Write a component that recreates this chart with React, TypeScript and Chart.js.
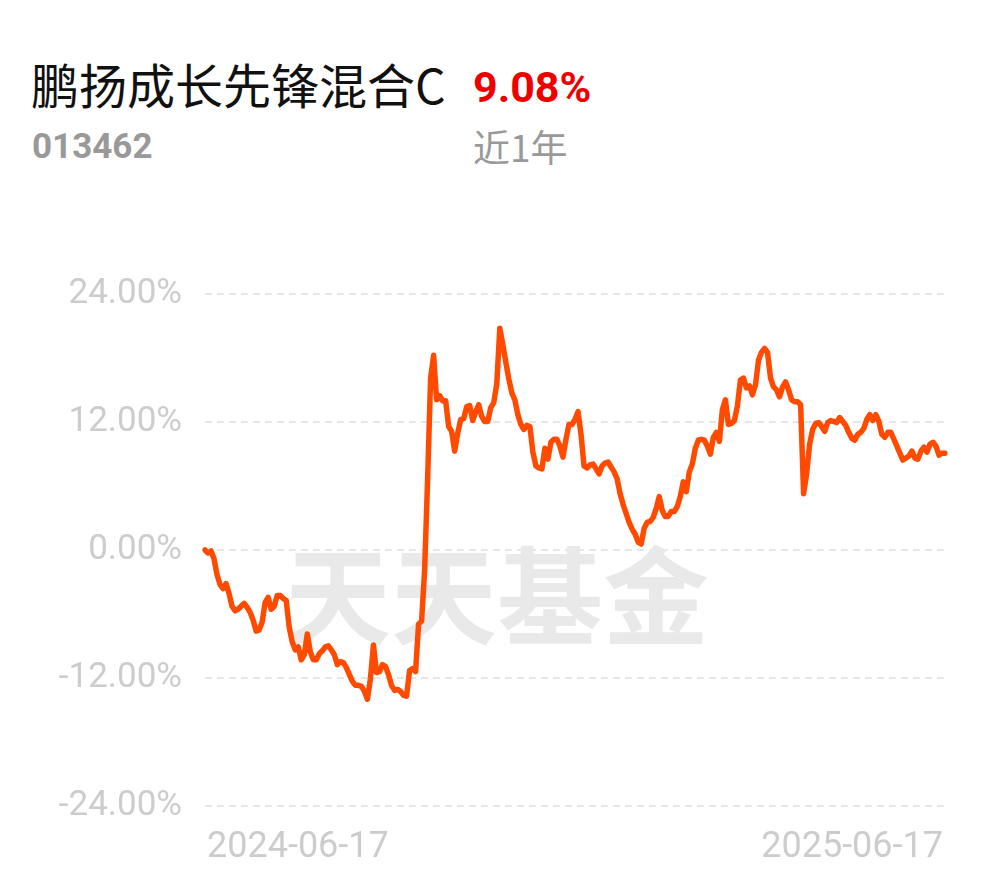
import React, { useEffect, useRef } from 'react';
import { Chart, registerables } from 'chart.js';

Chart.register(...registerables);

const fundName = '鹏扬成长先锋混合C';
const fundCode = '013462';
const periodReturn = '9.08%';
const periodLabel = '近1年';
const watermarkText = '天天基金';
const startDate = '2024-06-17';
const endDate = '2025-06-17';
const yTicks = [-24, -12, 0, 12, 24];

// cumulative return (%) over the last year, one value per trading day
const returns = [
  0, -0.28, -0.09, -0.83, -2.32, -3.24, -3.61, -3.15, -4.08, -5.28,
  -5.7, -5.56, -5.28, -5.0, -5.37, -5.84, -6.58, -7.6, -7.51, -6.76,
  -4.91, -4.45, -5.56, -5.28, -4.26, -4.26, -4.54, -4.73, -7.23, -8.62,
  -9.36, -9.08, -10.29, -9.82, -7.88, -9.54, -10.29, -10.29, -9.73, -9.45,
  -9.08, -8.99, -9.36, -9.82, -10.75, -10.47, -10.56, -11.03, -11.68, -12.32,
  -12.69, -12.69, -12.79, -13.25, -13.99, -12.05, -8.9, -11.49, -11.4, -10.75,
  -10.93, -11.68, -12.69, -13.16, -13.07, -13.25, -13.62, -13.71, -11.3, -11.12,
  -11.4, -6.95, -6.67, -1.95, 6.58, 16.12, 18.25, 14.08, 14.46, 13.99,
  13.99, 11.58, 11.12, 9.27, 10.93, 12.23, 12.32, 13.44, 13.53, 12.14,
  12.97, 13.62, 12.51, 12.05, 12.05, 13.34, 13.81, 15.6, 20.8, 19.27,
  17.61, 16.03, 14.73, 14.08, 12.69, 11.77, 11.3, 11.68, 11.58, 9.17,
  7.88, 7.69, 7.6, 9.54, 8.52, 10.1, 10.38, 10.38, 9.73, 8.71,
  10.38, 11.77, 11.77, 12.23, 12.97, 10.84, 7.88, 7.69, 7.97, 8.06,
  7.6, 7.14, 7.88, 8.15, 8.25, 7.78, 7.32, 6.67, 5.28, 4.26,
  3.43, 2.59, 1.95, 1.48, 0.74, 0.56, 2.04, 2.59, 2.69, 3.06,
  3.89, 5.0, 3.71, 3.15, 3.15, 3.61, 3.61, 4.08, 5.0, 6.39,
  5.47, 7.32, 8.06, 9.54, 10.29, 10.38, 10.29, 9.73, 8.99, 10.56,
  11.03, 10.19, 13.16, 14.08, 11.77, 11.86, 12.14, 13.53, 15.94, 16.12,
  15.2, 15.38, 14.55, 15.47, 17.79, 18.53, 18.9, 18.53, 16.12, 15.29,
  15.01, 14.36, 15.29, 15.75, 15.01, 14.08, 13.9, 13.9, 13.62, 5.28,
  7.14, 9.91, 11.3, 11.86, 11.95, 11.58, 11.12, 11.95, 12.14, 12.05,
  11.95, 12.42, 12.05, 11.68, 11.03, 10.47, 10.29, 10.84, 11.03, 11.4,
  12.23, 12.69, 12.14, 12.69, 12.05, 10.84, 10.56, 11.03, 11.03, 10.38,
  9.73, 9.08, 8.43, 8.62, 8.8, 9.27, 8.62, 8.52, 9.27, 9.64,
  9.17, 9.91, 10.1, 9.73, 8.9, 9.08, 9.08,
];

const CANVAS_TOP = 250;
const CANVAS_W = 990;
const CANVAS_H = 628;

export default function App() {
  const canvasRef = useRef<HTMLCanvasElement | null>(null);

  useEffect(() => {
    if (!canvasRef.current) return;
    const labels = returns.map((_, i) =>
      i === 0 ? startDate : i === returns.length - 1 ? endDate : ''
    );

    const decorPlugin = {
      id: 'decor',
      beforeDatasetsDraw(chart: any) {
        const { ctx, chartArea, scales } = chart;
        ctx.save();
        ctx.font = 'bold 106px "Noto Sans CJK SC"';
        ctx.fillStyle = '#e9e9e9';
        ctx.textAlign = 'center';
        ctx.textBaseline = 'middle';
        ctx.fillText(watermarkText, chartArea.left + 292, scales.y.getPixelForValue(-4.3));
        ctx.restore();
      },
      afterDraw(chart: any) {
        const { ctx, chartArea } = chart;
        ctx.save();
        ctx.font = '36px Roboto';
        ctx.fillStyle = '#cccccc';
        ctx.textBaseline = 'alphabetic';
        const baseY = chartArea.bottom + 51;
        ctx.textAlign = 'left';
        ctx.fillText(startDate, chartArea.left + 2, baseY);
        ctx.textAlign = 'right';
        ctx.fillText(endDate, chartArea.right - 2, baseY);
        ctx.restore();
      },
    };

    const chart = new Chart(canvasRef.current, {
      type: 'line',
      data: {
        labels,
        datasets: [
          {
            data: returns,
            borderColor: '#ff4a00',
            borderWidth: 5.5,
            pointRadius: 0,
            tension: 0,
            fill: false,
            borderJoinStyle: 'round',
            borderCapStyle: 'round',
          },
        ],
      },
      options: {
        animation: false,
        responsive: false,
        maintainAspectRatio: false,
        layout: { padding: { top: 38, right: 45, bottom: 72, left: 0 } },
        plugins: { legend: { display: false }, tooltip: { enabled: false } },
        scales: {
          x: { display: false },
          y: {
            min: yTicks[0],
            max: yTicks[yTicks.length - 1],
            afterFit: (s: any) => {
              s.width = 205;
            },
            afterBuildTicks: (s: any) => {
              s.ticks = yTicks.map((v) => ({ value: v }));
            },
            ticks: {
              padding: 23,
              color: '#cccccc',
              font: { family: 'Roboto', size: 35 },
              callback: (v: any) => Number(v).toFixed(2) + '%',
            },
            grid: { color: '#e6e6e6', lineWidth: 2, drawTicks: false },
            border: { display: false, dash: [7, 5] },
          },
        },
      },
      plugins: [decorPlugin],
    } as any);

    return () => chart.destroy();
  }, []);

  return (
    <div style={{ position: 'absolute', left: 0, top: 0, width: 990, height: 878, background: '#fff' }}>
      <div
        style={{
          position: 'absolute',
          left: 31,
          top: 59,
          fontFamily: '"Noto Sans CJK SC"',
          fontSize: 48,
          lineHeight: 1,
          color: '#111',
          whiteSpace: 'nowrap',
        }}
      >
        {fundName}
      </div>
      <div
        style={{
          position: 'absolute',
          left: 473,
          top: 66,
          fontFamily: 'Roboto',
          fontWeight: 700,
          fontSize: 43,
          lineHeight: 1,
          color: '#ee0000',
        }}
      >
        {periodReturn}
      </div>
      <div
        style={{
          position: 'absolute',
          left: 32,
          top: 129,
          fontFamily: 'Roboto',
          fontWeight: 700,
          fontSize: 35,
          lineHeight: 1,
          color: '#999999',
        }}
      >
        {fundCode}
      </div>
      <div
        style={{
          position: 'absolute',
          left: 473,
          top: 128,
          fontFamily: '"Noto Sans CJK SC"',
          fontSize: 37,
          lineHeight: 1,
          color: '#999999',
          whiteSpace: 'nowrap',
        }}
      >
        {periodLabel}
      </div>
      <canvas
        ref={canvasRef}
        width={CANVAS_W}
        height={CANVAS_H}
        style={{ position: 'absolute', left: 0, top: CANVAS_TOP, width: CANVAS_W, height: CANVAS_H }}
      />
    </div>
  );
}
